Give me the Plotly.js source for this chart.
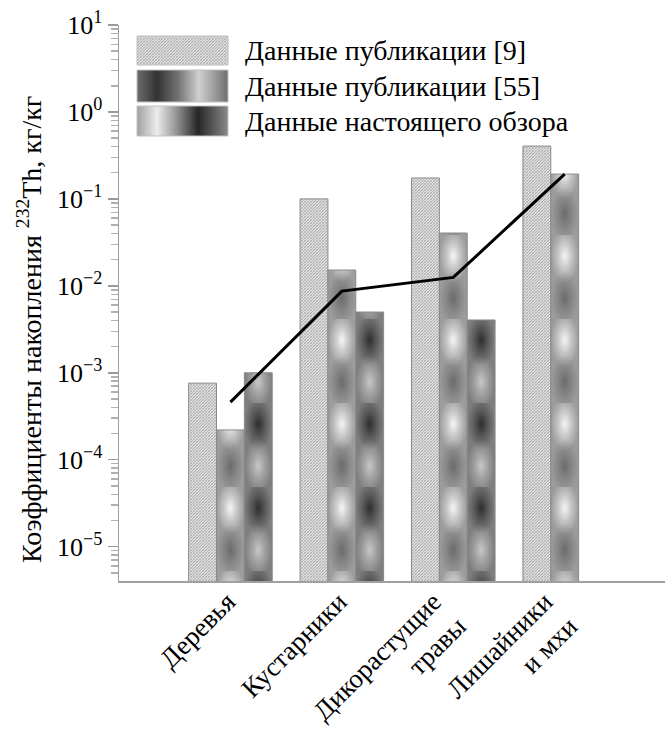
<!DOCTYPE html>
<html>
<head>
<meta charset="utf-8">
<script src="https://cdn.plot.ly/plotly-3.0.1.min.js"></script>
<style>
html,body{margin:0;padding:0;background:#fff;}
#chart{width:667px;height:732px;}
</style>
</head>
<body>
<div id="chart"></div>
<script>
// ---- data ----
const categories = ['Деревья', 'Кустарники', 'Дикорастущие<br>травы', 'Лишайники<br>и мхи'];
const seriesNames = ['Данные публикации [9]', 'Данные публикации [55]', 'Данные настоящего обзора'];
const pub9 = [7.6e-4, 0.100, 0.174, 0.405];
const pub55 = [2.2e-4, 0.0152, 0.0405, 0.193];
const review = [1.0e-3, 5.0e-3, 4.05e-3, null];
const trendValues = [4.6e-4, 8.7e-3, 0.0125, 0.193];
const yTickExp = [-5, -4, -3, -2, -1, 0, 1];
const yTickVals = yTickExp.map(e => Math.pow(10, e));
const yTickText = yTickExp.map(e => '10<sup>' + (e < 0 ? '\u2212' + (-e) : e) + '</sup>');
const yTitle = 'Коэффициенты накопления <sup>232</sup>Th, кг/кг';

const serif = 'Liberation Serif';
const W = 667, H = 732;
const M = {l: 119, r: 2, t: 25, b: 151};
const pw = W - M.l - M.r, ph = H - M.t - M.b;
const px2x = p => (p - M.l) / pw;
const px2y = p => (H - M.b - p) / ph;

const barLine = {color: '#8a8a8a', width: 1};
const traces = [
  {type: 'bar', name: seriesNames[0], x: categories, y: pub9,
   marker: {color: '#d2d2d2', line: barLine}},
  {type: 'bar', name: seriesNames[1], x: categories, y: pub55,
   marker: {color: '#9a9a9a', line: barLine}},
  {type: 'bar', name: seriesNames[2], x: categories, y: review,
   marker: {color: '#7a7a7a', line: barLine}},
  {type: 'scatter', mode: 'lines', x: categories, y: trendValues,
   line: {color: '#000', width: 3}, showlegend: false}
];

// custom legend (wide swatches like the original)
const swatchPx = [[36, 65], [70, 102], [106, 136]];
const textPx = [50, 86, 121];
const shapes = swatchPx.map(s => ({
  type: 'rect', xref: 'paper', yref: 'paper', layer: 'above',
  x0: px2x(137), x1: px2x(228), y0: px2y(s[1]), y1: px2y(s[0]),
  fillcolor: '#999', line: {color: '#c0c0c0', width: 1}
}));
const annotations = seriesNames.map((n, i) => ({
  xref: 'paper', yref: 'paper', x: px2x(243), y: px2y(textPx[i]),
  xanchor: 'left', yanchor: 'middle', showarrow: false, text: n,
  font: {family: serif, size: 28, color: '#000'}
}));
annotations.push({
  xref: 'paper', yref: 'paper', x: px2x(30), y: px2y(330),
  xanchor: 'center', yanchor: 'middle', textangle: -90, showarrow: false,
  text: yTitle, font: {family: serif, size: 28, color: '#000'}
});

const layout = {
  width: W, height: H, margin: M,
  paper_bgcolor: '#fff', plot_bgcolor: '#fff',
  showlegend: false,
  barmode: 'group', bargap: 0.25, bargroupgap: 0,
  font: {family: serif, color: '#000'},
  xaxis: {
    type: 'category', range: [-1, 3.9], showgrid: false, zeroline: false,
    showline: true, linecolor: '#a0a0a0', linewidth: 2, ticks: '',
    tickangle: -45, tickfont: {family: serif, size: 27, color: '#000'}
  },
  yaxis: {
    type: 'log', range: [-5.395, 1], showgrid: false, zeroline: false,
    showline: true, linecolor: '#a0a0a0', linewidth: 1.5,
    tickvals: yTickVals, ticktext: yTickText,
    ticks: 'outside', ticklen: 10, tickcolor: '#9a9a9a', tickwidth: 1.5,
    minor: {ticks: 'outside', ticklen: 7, tickcolor: '#b0b0b0', dtick: 'D1', showgrid: false},
    tickfont: {family: serif, size: 26, color: '#000'}
  },
  shapes: shapes,
  annotations: annotations
};

const NS = 'http://www.w3.org/2000/svg';
function mk(tag, attrs, parent) {
  const e = document.createElementNS(NS, tag);
  for (const k in attrs) e.setAttribute(k, attrs[k]);
  if (parent) parent.appendChild(e);
  return e;
}
function stops(g, list) {
  list.forEach(s => mk('stop', {offset: s[0], 'stop-color': s[1], 'stop-opacity': s[2] === undefined ? 1 : s[2]}, g));
}

function decorate() {
  const svg = document.querySelector('#chart .main-svg');
  const defs = svg.querySelector('defs') || mk('defs', {}, svg);
  // fine hatch
  const hatch = mk('pattern', {id: 'hatchP', patternUnits: 'userSpaceOnUse', width: 3, height: 3}, defs);
  mk('rect', {width: 3, height: 3, fill: '#e0e0e0'}, hatch);
  mk('path', {d: 'M0,3L3,0M-1,1L1,-1M2,4L4,2', stroke: '#9a9a9a', 'stroke-width': 0.7}, hatch);
  mk('path', {d: 'M0,0L3,3', stroke: '#b4b4b4', 'stroke-width': 0.5}, hatch);
  // soft spot gradients
  function spot(id, color, op) {
    const g = mk('radialGradient', {id: id, cx: 0.5, cy: 0.5, r: 0.5}, defs);
    stops(g, [[0, color, op], [0.5, color, op * 0.45], [1, color, 0]]);
  }
  spot('light2', '#fafafa', 0.95);
  spot('dark2', '#4a4a4a', 0.6);
  spot('light3', '#e6e6e6', 0.7);
  spot('dark3', '#1a1a1a', 0.8);
  const cfg = {1: {base: '#9c9c9c', first: 'light2', second: 'dark2'},
               2: {base: '#7e7e7e', first: 'dark3', second: 'light3'}};
  const barTraces = document.querySelectorAll('#chart .barlayer .trace');
  barTraces.forEach((tr, t) => {
    tr.querySelectorAll('path').forEach((p, i) => {
      if (t === 0) { p.style.fill = 'url(#hatchP)'; return; }
      const c = cfg[t]; if (!c) return;
      const b = p.getBBox(); if (!b.width) return;
      const id = 'bp' + t + '_' + i;
      const pat = mk('pattern', {id: id, patternUnits: 'userSpaceOnUse', x: b.x, y: b.y + b.height, width: b.width, height: 84}, defs);
      mk('rect', {width: b.width, height: 84, fill: c.base}, pat);
      mk('rect', {y: -6, width: b.width, height: 54, fill: 'url(#' + c.first + ')'}, pat);
      mk('rect', {y: 36, width: b.width, height: 54, fill: 'url(#' + c.second + ')'}, pat);
      p.style.fill = 'url(#' + id + ')';
    });
  });
  // legend swatches
  const lg2 = mk('linearGradient', {id: 'sw2'}, defs);
  stops(lg2, [[0, '#6c6c6c'], [0.22, '#333333'], [0.45, '#727272'], [0.68, '#d0d0d0'], [1, '#6e6e6e']]);
  const lg3 = mk('linearGradient', {id: 'sw3'}, defs);
  stops(lg3, [[0, '#a0a0a0'], [0.22, '#ececec'], [0.45, '#8c8c8c'], [0.67, '#262626'], [1, '#8a8a8a']]);
  const sh = document.querySelectorAll('#chart .shapelayer path');
  const fills = ['url(#hatchP)', 'url(#sw2)', 'url(#sw3)'];
  sh.forEach((p, i) => { if (fills[i]) p.style.fill = fills[i]; });
  // nudge category labels closer to the axis, like the original
  document.querySelectorAll('#chart .xtick text').forEach(tx => {
    const multi = tx.querySelectorAll('tspan.line').length > 1;
    const d = multi ? 'translate(-20,-8) ' : 'translate(-3,-8) ';
    tx.setAttribute('transform', d + (tx.getAttribute('transform') || ''));
  });
}

Plotly.newPlot('chart', traces, layout, {staticPlot: true}).then(decorate);
</script>
</body>
</html>
